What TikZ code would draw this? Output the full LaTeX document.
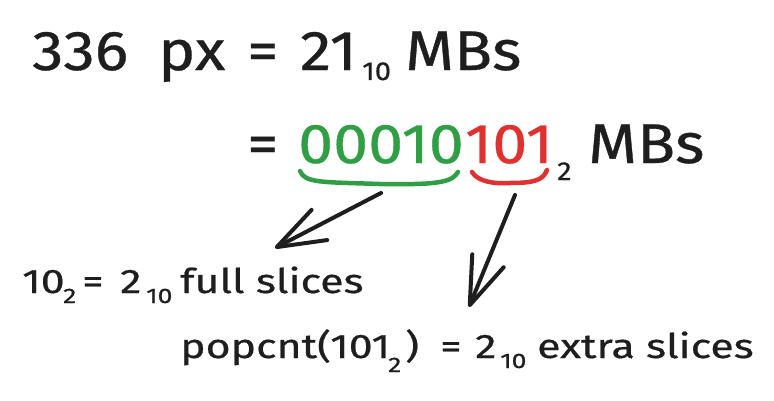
\documentclass[tikz,border=0pt]{standalone}
\usepackage{fontspec}
\setmainfont{Fira Sans}
\newfontfamily\widefont[FakeStretch=1.12, FakeBold=0.6]{Fira Sans}
\newfontfamily\widerfont[FakeStretch=1.26, FakeBold=0.6]{Fira Sans}
\usetikzlibrary{arrows.meta}
\definecolor{ink}{HTML}{1E1E1E}
\definecolor{grn}{HTML}{2F9E44}
\definecolor{rd}{HTML}{E03131}
\tikzset{
  txt/.style={inner sep=0pt, anchor=base west, text=ink},
  big/.style={txt, font=\widefont\fontsize{56}{60}\selectfont},
  bigsub/.style={txt, font=\widefont\fontsize{26}{28}\selectfont},
  mid/.style={txt, font=\widerfont\fontsize{34}{38}\selectfont},
  midsub/.style={txt, font=\widerfont\fontsize{21}{24}\selectfont},
  brace/.style={line width=4.5pt, line cap=round, line join=round},
  pointer/.style={draw=ink, line width=4pt, line cap=round,
    -{Straight Barb[length=48pt, width=34pt, line width=4pt, round]}},
}
\begin{document}
\begin{tikzpicture}[x=1pt, y=1pt]
\useasboundingbox (0,0) rectangle (774,400);
% line 1
\node[big] (l1a) at (32,330) {336};
\node[big] (l1b) at (158,330) {px};
\node[big] (l1c) at (247,330) {=};
\node[big] (l1d) at (300,330) {21};
\node[bigsub] (l1e) at (362,320) {10};
\node[big] (l1f) at (405,330) {MBs};
% line 2
\node[big] (l2a) at (247,237) {=};
\node[big, text=grn] (l2b) at (298,237) {00010};
\node[big, text=rd] (l2c) at (465,237) {101};
\node[bigsub] (l2d) at (557,220) {2};
\node[big] (l2e) at (588,237) {MBs};
% braces
\coordinate (g1) at (300,229);
\coordinate (g2) at (458,228);
\coordinate (r1) at (472,228);
\coordinate (r2) at (547,230);
\draw[brace, grn] (g1) .. controls (305,217) and (320,218) .. (380,216)
  .. controls (440,215) and (452,218) .. (g2);
\draw[brace, rd] (r1) .. controls (478,218) and (495,216) .. (510,217)
  .. controls (535,217) and (543,220) .. (r2);
% line 3
\node[mid] (l3a) at (22,107) {10};
\node[midsub] (l3b) at (63,97) {2};
\node[mid] (l3c) at (82,107) {=};
\node[mid] (l3d) at (120,107) {2};
\node[midsub] (l3e) at (146,97) {10};
\node[mid] (l3f) at (180,107) {full slices};
% line 4
\node[mid] (l4a) at (180,42) {popcnt(101};
\node[midsub] (l4b) at (388,28) {2};
\node[mid] (l4c) at (405,42) {)};
\node[mid] (l4d) at (440,42) {=};
\node[mid] (l4e) at (475,42) {2};
\node[midsub] (l4f) at (500,32) {10};
\node[mid] (l4g) at (537,42) {extra slices};
% arrows
\coordinate (a1s) at (381,207);
\coordinate (a1e) at (275,152);
\coordinate (a2s) at (515,205);
\coordinate (a2e) at (469,93);
\draw[pointer] (a1s) -- (a1e);
\draw[pointer] (a2s) -- (a2e);
\end{tikzpicture}
\end{document}
